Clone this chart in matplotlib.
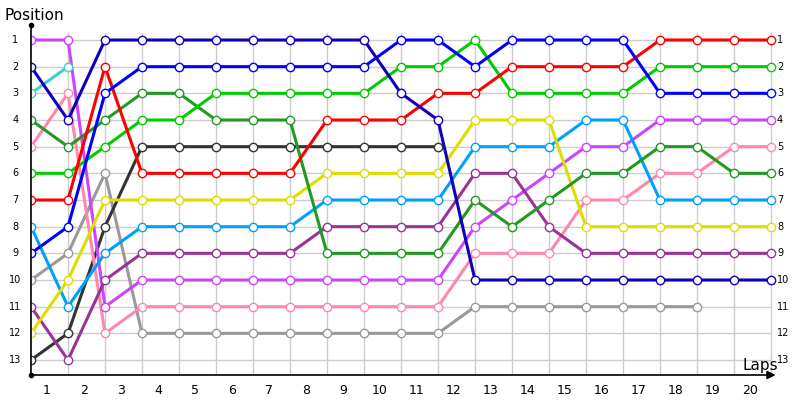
import numpy as np
import matplotlib as mpl
mpl.use('Agg')
import matplotlib.pyplot as plt

# positions per lap (lap 0 = grid)
violet = [1, 1, 11, 10, 10, 10, 10, 10, 10, 10, 10, 10, 8, 7, 6, 5, 5, 4, 4, 4, 4]
navy = [2, 4, 1, 1, 1, 1, 1, 1, 1, 1, 3, 4, 10, 10, 10, 10, 10, 10, 10, 10, 10]
blue = [9, 8, 3, 2, 2, 2, 2, 2, 2, 2, 1, 1, 2, 1, 1, 1, 1, 3, 3, 3, 3]
red = [7, 7, 2, 6, 6, 6, 6, 6, 4, 4, 4, 3, 3, 2, 2, 2, 2, 1, 1, 1, 1]
cyan = [3, 2]
pink = [5, 3, 12, 11, 11, 11, 11, 11, 11, 11, 11, 11, 9, 9, 9, 7, 7, 6, 6, 5, 5]
dkgreen = [4, 5, 4, 3, 3, 4, 4, 4, 9, 9, 9, 9, 7, 8, 7, 6, 6, 5, 5, 6, 6]
green = [6, 6, 5, 4, 4, 3, 3, 3, 3, 3, 2, 2, 1, 3, 3, 3, 3, 2, 2, 2, 2]
black = [13, 12, 8, 5, 5, 5, 5, 5, 5, 5, 5, 5]
gray = [10, 9, 6, 12, 12, 12, 12, 12, 12, 12, 12, 12, 11, 11, 11, 11, 11, 11, 11]
yellow = [12, 10, 7, 7, 7, 7, 7, 7, 6, 6, 6, 6, 4, 4, 4, 8, 8, 8, 8, 8, 8]
ltblue = [8, 11, 9, 8, 8, 8, 8, 8, 7, 7, 7, 7, 5, 5, 5, 4, 4, 7, 7, 7, 7]
purple = [11, 13, 10, 9, 9, 9, 9, 9, 8, 8, 8, 8, 6, 6, 8, 9, 9, 9, 9, 9, 9]

series = [
    (gray, '#999999'),
    (black, '#333333'),
    (cyan, '#44cccc'),
    (pink, '#ff88aa'),
    (violet, '#cc44ff'),
    (purple, '#993399'),
    (ltblue, '#00a0ff'),
    (yellow, '#dddd00'),
    (dkgreen, '#229922'),
    (green, '#00cc00'),
    (red, '#ff0000'),
    (blue, '#0000ff'),
    (navy, '#1100bb'),
]

n_laps = 20
n_pos = 13

fig = plt.figure(figsize=(8, 4), dpi=100)
ax = fig.add_axes([31/800, 25/400, 769/800, 350/400])
ax.set_xlim(0, 769/37)
ax.set_ylim(13.5625, 0.4375)
ax.axis('off')

# grid
for lap in range(1, n_laps + 1):
    ax.plot([lap, lap], [0.75, 13.5625], color='#cccccc', lw=1, zorder=0)
for p in range(1, n_pos + 1):
    ax.plot([0, n_laps], [p, p], color='#cccccc', lw=1, zorder=0)

for y, c in series:
    x = np.arange(len(y))
    ax.plot(x, y, '-', color=c, lw=2.2, zorder=2)
    ax.plot(x, y, 'o', color=c, mfc='white', mec=c, ms=6, mew=1, zorder=3)

# axes
ax.plot([0, 0], [0.4375, 13.5625], color='black', lw=1.2, clip_on=False, zorder=4)
ax.plot([0, 0], [0.4375, 13.5625], 'o', color='black', ms=3, clip_on=False, zorder=4)
ax.annotate('', xy=(20.2, 13.5625), xytext=(0, 13.5625),
            arrowprops=dict(arrowstyle='-|>', color='black', lw=1.2, mutation_scale=12),
            annotation_clip=False)

for p in range(1, n_pos + 1):
    ax.text(-0.42, p, str(p), ha='center', va='center', fontsize=7, clip_on=False)
    ax.text(20.16, p, str(p), ha='left', va='center', fontsize=7, clip_on=False)
for lap in range(1, n_laps + 1):
    ax.text(lap - 0.57, 14.15, str(lap), ha='center', va='center', fontsize=9, clip_on=False)

ax.text(-0.72, 0.08, 'Position', ha='left', va='center', fontsize=11, clip_on=False)
ax.text(19.22, 13.2, 'Laps', ha='left', va='center', fontsize=11, clip_on=False)

fig.savefig('out.png', dpi=100)
